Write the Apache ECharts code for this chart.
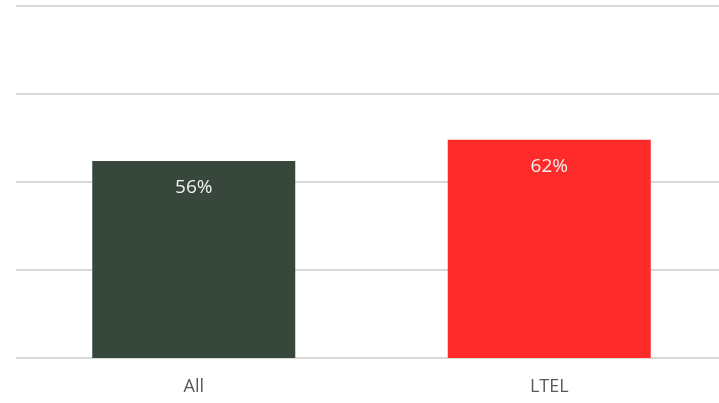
<!DOCTYPE html>
<html><head><meta charset="utf-8">
<script src="https://cdn.jsdelivr.net/npm/echarts@6/dist/echarts.min.js"></script>
<style>html,body{margin:0;padding:0;background:#fff;overflow:hidden;width:719px;height:403px}#c{width:727px;height:403px}</style>
</head><body><div id="c"></div>
<script>
const categories = ["All", "LTEL"];
const values = [0.56, 0.62];
const barColors = ["#37473B", "#FF2A2A"];
const chart = echarts.init(document.getElementById('c'));
chart.setOption({
  animation: false,
  grid: {left: 16, right: 0, top: 6, bottom: 45},
  xAxis: {
    type: 'category', data: categories,
    axisLine: {show: false}, axisTick: {show: false},
    axisLabel: {color: '#595959', fontSize: 18, fontFamily: 'Open Sans', margin: 20}
  },
  yAxis: {
    type: 'value', min: 0, max: 1, interval: 0.25,
    axisLabel: {show: false}, axisLine: {show: false}, axisTick: {show: false},
    splitLine: {lineStyle: {color: '#D9D9D9', width: 2}}
  },
  series: [{
    type: 'bar', barWidth: 203,
    data: values.map((v, i) => ({value: v, itemStyle: {color: barColors[i]}})),
    label: {
      show: true, position: 'insideTop', distance: 17,
      color: '#F2F2F2', fontSize: 19, fontFamily: 'Open Sans',
      formatter: p => Math.round(p.value * 100) + '%'
    }
  }]
});
</script></body></html>
